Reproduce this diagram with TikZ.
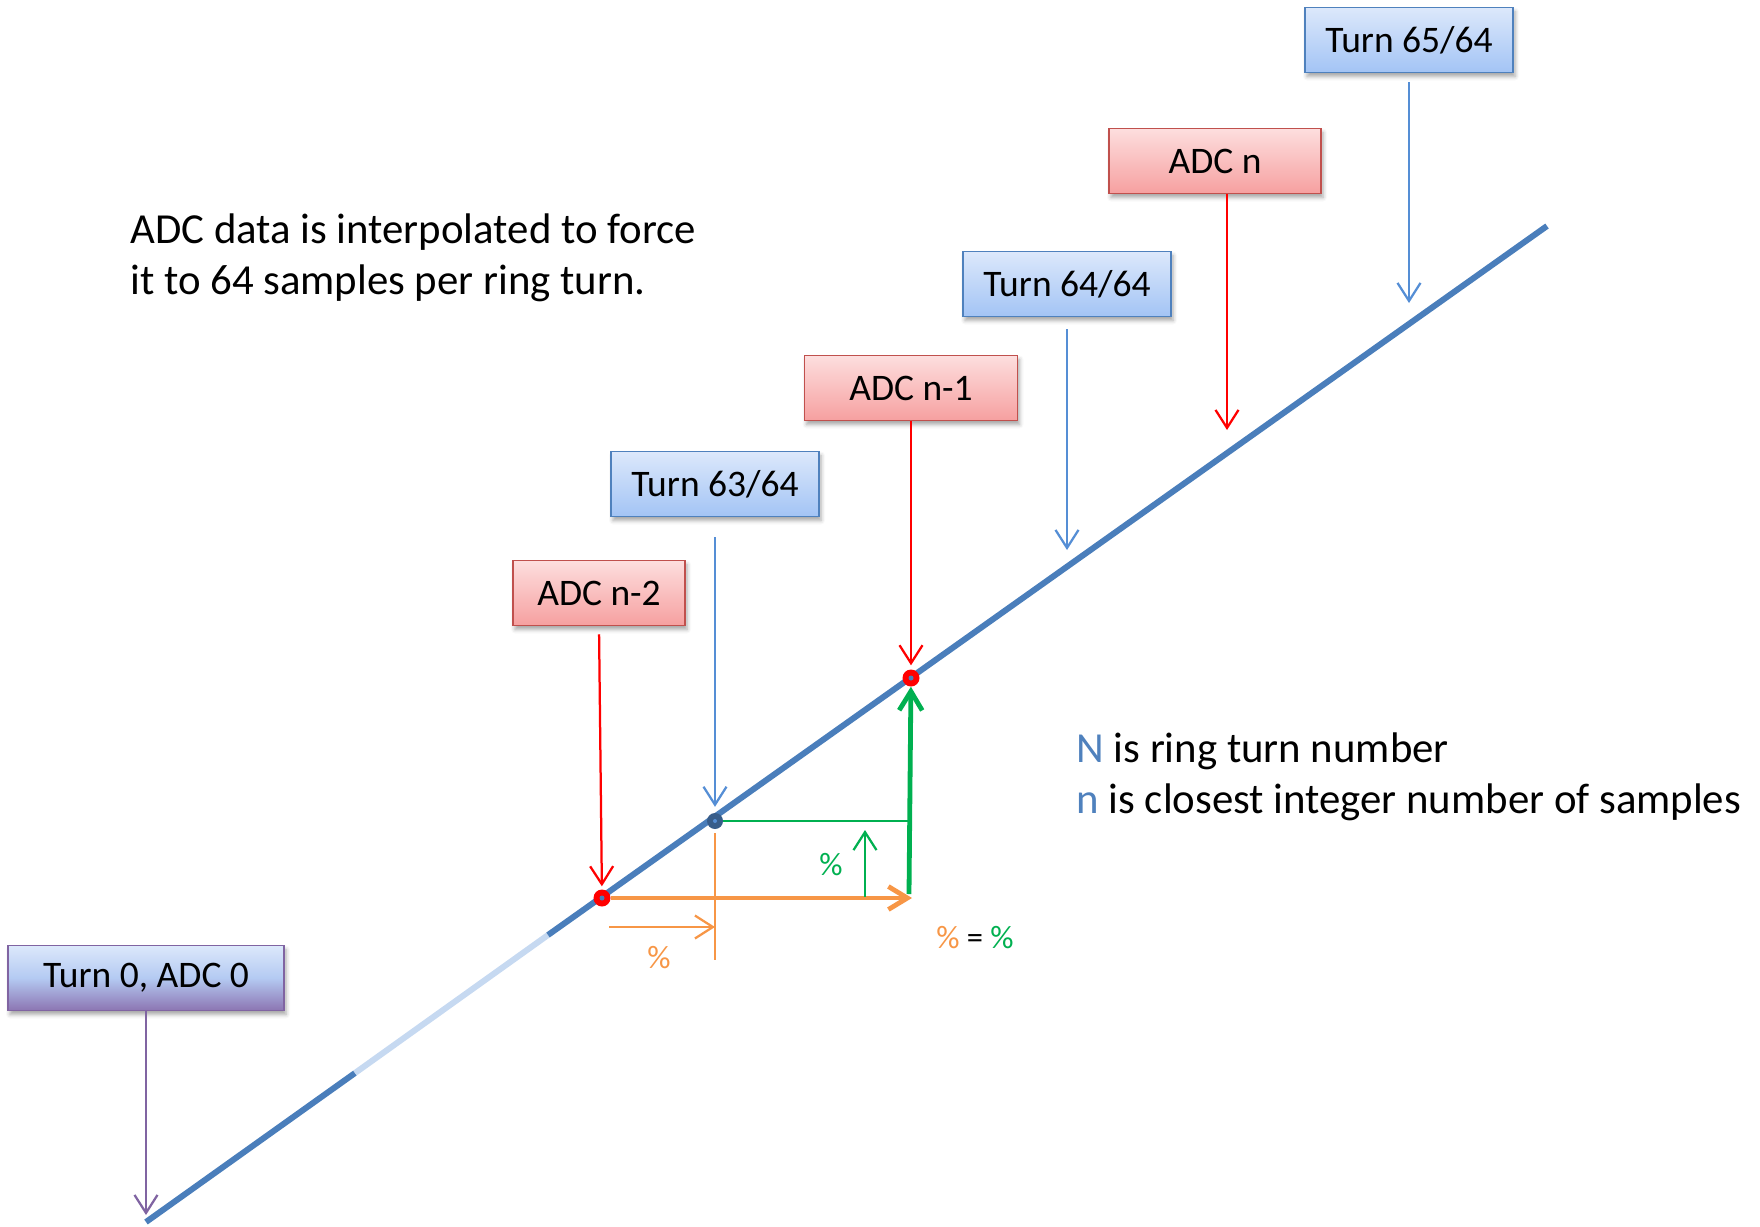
\documentclass[tikz,border=0pt]{standalone}
\usepackage{fontspec}
\setmainfont{Carlito}
\usetikzlibrary{arrows.meta,shadows.blur}

\definecolor{linebl}{HTML}{4A7EBB}
\definecolor{fadebl}{HTML}{C6D9F1}
\definecolor{arrbl}{HTML}{558ED5}
\definecolor{dotbl}{HTML}{385D8A}
\definecolor{grn}{HTML}{00B050}
\definecolor{org}{HTML}{F79646}
\definecolor{purp}{HTML}{8064A2}
\definecolor{txtbl}{HTML}{4F81BD}
\definecolor{redbd}{HTML}{C0504D}

\begin{document}
\begin{tikzpicture}[
  x=1pt, y=-1pt,
  box/.style={line width=1.5pt, align=center, inner sep=0pt, minimum width=208pt, minimum height=65pt,
    font=\fontsize{37.5}{45}\selectfont,
    blur shadow={shadow xshift=2pt, shadow yshift=-4pt, shadow blur radius=4pt, shadow opacity=35}},
  tbox/.style={box, draw=txtbl, top color={rgb,255:red,220;green,232;blue,251}, bottom color={rgb,255:red,163;green,196;blue,245}},
  abox/.style={box, draw=redbd, top color={rgb,255:red,253;green,222;blue,222}, bottom color={rgb,255:red,246;green,160;blue,160}},
  zbox/.style={box, draw=purp, top color={rgb,255:red,220;green,232;blue,251}, bottom color={rgb,255:red,140;green,117;blue,178},
    middle color={rgb,255:red,180;green,202;blue,242}},
  reddot/.style={circle, fill=red, minimum size=17pt, inner sep=0pt},
  bluedot/.style={circle, fill=dotbl, minimum size=16pt, inner sep=0pt},
  mainln/.style={line width=6pt, linebl},
  thinarr/.style={line width=2.25pt, -{Straight Barb[length=18pt, width=23pt]}},
  thickarr/.style={line width=4.8pt, -{Straight Barb[length=19pt, width=23pt]}},
  big/.style={font=\fontsize{42.8}{51}\selectfont},
  pct/.style={font=\fontsize{32.5}{38}\selectfont}
]
\useasboundingbox (0,0) rectangle (1760,1226);

% the ring turn line
\coordinate (lA) at (146,1222);
\coordinate (lF1) at (355,1073);
\coordinate (lF2) at (548,935);
\coordinate (lB) at (1547,226);
\draw[mainln] (lA) -- (lF1);
\draw[mainln, fadebl] (lF1) -- (lF2);
\draw[mainln] (lF2) -- (lB);

% samples on the line
\node[reddot] (d2) at (602,898) {};
\node[bluedot] (db) at (715,821) {};
\node[reddot] (d1) at (911,678) {};
\fill[linebl] (d2) circle (2.5pt);
\fill[linebl] (d1) circle (2.5pt);
\fill[arrbl] (db) circle (2pt);

% labels
\node[tbox] (t65) at (1409,40) {Turn 65/64};
\node[abox, minimum width=212pt] (adcn) at (1215,161) {ADC n};
\node[tbox] (t64) at (1067,284) {Turn 64/64};
\node[abox, minimum width=213pt] (adcn1) at (911,388) {ADC n-1};
\node[tbox] (t63) at (715,484) {Turn 63/64};
\node[abox, minimum width=172pt] (adcn2) at (599,593) {ADC n-2};
\node[zbox, minimum width=276pt] (t0) at (146,978) {Turn 0, ADC 0};

\node[big, anchor=west, align=left] (note) at (127,258) {ADC data is interpolated to force\\it to 64 samples per ring turn.};
\node[big, anchor=west, align=left] (legend) at (1073,777) {\textcolor{txtbl}{N} is ring turn number\\\textcolor{txtbl}{n} is closest integer number of samples};

% arrows down to the line
\coordinate (e65) at (1409,303);
\coordinate (en) at (1227,430);
\coordinate (e64) at (1067,550);
\coordinate (e0) at (146,1215);
\draw[thinarr, arrbl, shorten <=9pt] (t65.south) -- (e65);
\draw[thinarr, red] ([xshift=12pt]adcn.south) -- (en);
\draw[thinarr, arrbl, shorten <=12pt] (t64.south) -- (e64);
\draw[thinarr, red, shorten >=4pt] (adcn1.south) -- (d1);
\draw[thinarr, arrbl, shorten <=20pt, shorten >=6pt] (t63.south) -- (db);
\draw[thinarr, red, shorten <=8pt, shorten >=3pt] (adcn2.south) -- (d2);
\draw[thinarr, purp] (t0.south) -- (e0);

% interpolation
\coordinate (oe) at (912,898);
\coordinate (gb) at (909,894);
\coordinate (gt) at (909,821);
\coordinate (ov1) at (715,833);
\coordinate (ov2) at (715,960);
\coordinate (oa1) at (609,927);
\coordinate (oa2) at (715,927);
\coordinate (ga1) at (865,897);
\coordinate (ga2) at (865,830);
\draw[line width=2.25pt, grn] (db) -- (gt);
\draw[line width=2.25pt, org] (ov1) -- (ov2);
\draw[thickarr, org] (d2) -- (oe);
\draw[thickarr, grn] (gb) -- (d1);
\draw[thinarr, org] (oa1) -- (oa2);
\draw[thinarr, grn] (ga1) -- (ga2);
\node[pct, text=grn] (pg) at (831,865) {\%};
\node[pct, text=org] (po) at (659,958) {\%};
\node[pct] (peq) at (975,938) {\textcolor{org}{\%} = \textcolor{grn}{\%}};
\end{tikzpicture}
\end{document}
